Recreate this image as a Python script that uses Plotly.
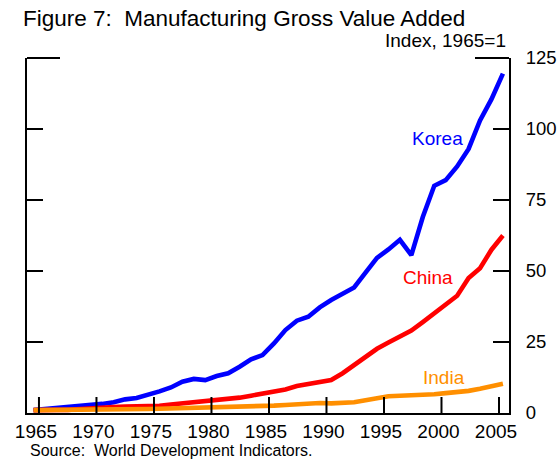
import plotly.graph_objects as go

# Manufacturing gross value added, index 1965 = 1
years = list(range(1965, 2007))

korea = [1.0, 1.3, 1.6, 2.0, 2.4, 2.8, 3.2, 3.8, 4.8, 5.3, 6.3, 7.6,
         9.0, 11.0, 12.0, 11.6, 13.0, 14.0, 16.3, 18.9, 20.4, 24.5, 29.2, 32.5,
         33.9, 37.2, 39.8, 42.0, 44.2, 49.4, 54.6, 57.6, 61.0, 55.6, 69.0, 80.0,
         82.0, 86.8, 93.0, 103.0, 110.5, 119.5]

china = [1.0, 1.2, 1.1, 1.1, 1.4, 1.8, 2.0, 2.1, 2.3, 2.3, 2.5, 2.5,
         3.0, 3.4, 3.8, 4.2, 4.5, 4.8, 5.4, 6.1, 6.9, 7.4, 8.3, 9.5,
         10.2, 10.5, 11.6, 14.0, 17.0, 20.0, 22.6, 24.8, 27.0, 29.0, 32.0, 35.0,
         38.2, 41.3, 47.5, 51.0, 57.5, 62.5]

india = [1.0, 1.0, 1.0, 1.1, 1.1, 1.1, 1.2, 1.2, 1.3, 1.4, 1.4, 1.5,
         1.6, 1.6, 1.7, 1.7, 1.8, 1.9, 2.1, 2.3, 2.4, 2.6, 2.8, 3.1,
         3.4, 3.5, 3.4, 3.4, 3.8, 4.5, 5.3, 5.9, 6.1, 6.2, 6.4, 6.6,
         7.0, 7.3, 7.8, 8.5, 9.3, 10.3]

series_names = ["Korea", "China", "India"]
series_values = [korea, china, india]
series_colors = ["#0000FF", "#FF0000", "#FF8F00"]
# where each series name is written (year, index value)
label_pos = [(1997.9, 96.5), (1997.1, 47.8), (1998.8, 12.6)]

x_ticks = list(range(1965, 2006, 5))
y_ticks = [0, 25, 50, 75, 100, 125]

FONT = "Liberation Sans, Arial, sans-serif"
TICK_LEN = 16
PLOT_W, PLOT_H = 482, 355
DATA_RANGE = [1964.43, 2006.53]
TICK_RANGE = [1963.96, 2005.87]
Y_RANGE = [0, 125]

fig = go.Figure()
for name, vals, col in zip(series_names, series_values, series_colors):
    fig.add_trace(go.Scatter(
        x=years, y=vals, mode="lines", name=name, xaxis="x",
        line=dict(color=col, width=4.6), showlegend=False,
    ))

# year tick marks standing up from the bottom axis, on the tick-axis scale
tick_len_units = TICK_LEN / PLOT_H * (Y_RANGE[1] - Y_RANGE[0])
tick_x, tick_y = [], []
for yr in x_ticks:
    tick_x += [yr, yr, None]
    tick_y += [Y_RANGE[0], Y_RANGE[0] + tick_len_units, None]
fig.add_trace(go.Scatter(x=tick_x, y=tick_y, xaxis="x2", yaxis="y",
                         mode="lines", line=dict(color="black", width=2),
                         showlegend=False, hoverinfo="skip",
                         cliponaxis=False))

for name, (lx, ly), col in zip(series_names, label_pos, series_colors):
    fig.add_annotation(x=lx, y=ly, xref="x", yref="y", text=name,
                       showarrow=False, xanchor="left", yanchor="middle",
                       font=dict(size=19, color=col, family=FONT))

fig.update_layout(
    width=559, height=459,
    margin=dict(l=27, r=50, t=58, b=46),
    paper_bgcolor="white", plot_bgcolor="white",
    font=dict(family=FONT, color="black"),
    title=dict(text="Figure 7:  Manufacturing Gross Value Added",
               x=23 / 559, xanchor="left", xref="container",
               y=1 - 18 / 459, yanchor="middle", yref="container",
               font=dict(size=22.5, family=FONT, color="black")),
    xaxis=dict(range=DATA_RANGE, showgrid=False, zeroline=False,
               showticklabels=False, ticks="", showline=True,
               linecolor="black", linewidth=2, automargin=False),
    xaxis2=dict(range=TICK_RANGE, overlaying="x", anchor="y",
                side="bottom", tickmode="array", tickvals=x_ticks,
                ticktext=[str(v) for v in x_ticks],
                ticks="", ticklabelshift=-3,
                showline=True, linecolor="black", linewidth=2, mirror=False,
                showgrid=False, zeroline=False, automargin=False,
                tickfont=dict(size=19, family=FONT, color="black")),
    yaxis=dict(range=Y_RANGE, tickmode="array", tickvals=y_ticks,
               side="right", ticks="inside", ticklen=TICK_LEN, tickwidth=2,
               tickcolor="black", showline=True, linecolor="black",
               linewidth=2, mirror="ticks", showgrid=False, zeroline=False,
               ticklabelstandoff=11, automargin=False,
               tickfont=dict(size=18.5, family=FONT, color="black")),
)

# short top-corner segments of the frame
for x0, x1 in [(0, 33 / PLOT_W), (1 - 34 / PLOT_W, 1)]:
    fig.add_shape(type="line", xref="paper", yref="paper",
                  x0=x0, x1=x1, y0=1, y1=1,
                  line=dict(color="black", width=2))

fig.add_annotation(text="Index, 1965=1", xref="paper", yref="paper",
                   x=(508 - 27) / PLOT_W, y=(413 - 40) / PLOT_H,
                   xanchor="right", yanchor="middle", showarrow=False,
                   font=dict(size=19, family=FONT, color="black"))

fig.add_annotation(text="Source:  World Development Indicators.",
                   xref="paper", yref="paper",
                   x=1 / PLOT_W, y=(413 - 450) / PLOT_H,
                   xanchor="left", yanchor="middle", showarrow=False,
                   font=dict(size=16, family=FONT, color="black"))

fig.write_html("out.html")
